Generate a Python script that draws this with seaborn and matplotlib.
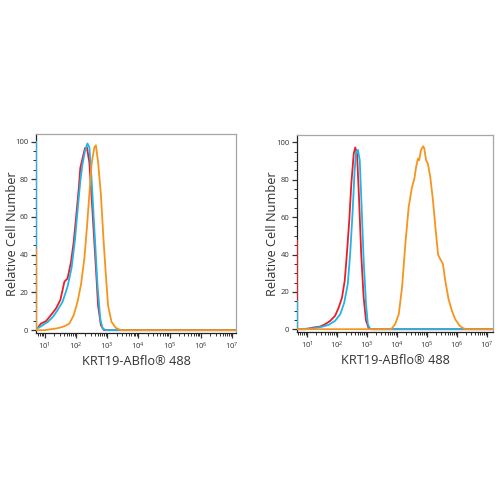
import numpy as np
import pandas as pd
import seaborn as sns
import matplotlib.pyplot as plt
from matplotlib.ticker import FixedLocator, LogFormatterSciNotation, MultipleLocator, NullFormatter

# positions are log10(fluorescence), values are % of max count
left_red_x = [0.80, 0.88, 1.04, 1.20, 1.36, 1.50, 1.63, 1.73, 1.84, 1.93, 2.00, 2.09,
              2.14, 2.21, 2.29, 2.35, 2.43, 2.53, 2.64, 2.71, 2.80, 2.90, 7.2]
left_red_y = [1.8, 3.5, 4.8, 8, 11.5, 16, 25.7, 27.4, 36, 47, 59, 75,
              86, 91, 96.5, 97, 89, 63, 33, 13, 2.6, 0, 0]
left_cyan_x = [0.725, 0.725, 0.80, 0.94, 1.10, 1.26, 1.41, 1.57, 1.73, 1.86, 1.97, 2.05, 2.14,
               2.21, 2.29, 2.37, 2.43, 2.50, 2.59, 2.69, 2.78, 2.85, 2.96, 7.2]
left_cyan_y = [100, 1.2, 1.2, 2.7, 4.4, 7, 10.6, 15, 23, 33, 48, 63, 79,
               88, 95, 99, 97, 80.5, 54, 24, 6, 1, 0, 0]
left_orange_x = [0.725, 0.725, 0.83, 1.00, 1.20, 1.40, 1.62, 1.79, 1.93, 2.05, 2.16, 2.27, 2.35,
                 2.43, 2.50, 2.59, 2.64, 2.71, 2.80, 2.88, 2.96, 3.03, 3.14, 3.28,
                 3.44, 7.2]
left_orange_y = [43, 0, 0, 0, 0.5, 1, 2, 3.5, 8, 15, 24, 38, 54,
                 72, 88, 97, 98, 89, 72, 49, 29, 13, 4.4, 1.2,
                 0, 0]

right_red_x = [0.675, 0.675, 0.72, 0.95, 1.22, 1.44, 1.61, 1.78, 1.94, 2.06, 2.17, 2.26, 2.33,
               2.41, 2.48, 2.56, 2.61, 2.67, 2.73, 2.81, 2.89, 2.97, 3.06, 3.17, 7.3]
right_red_y = [47.5, 0, 0, 0, 0.9, 1.4, 2.7, 4.5, 7.2, 11.6, 17, 26, 40,
               58, 78, 94, 97.3, 94, 72.6, 40, 17, 4.5, 0.4, 0, 0]
right_cyan_x = [0.675, 0.675, 0.72, 1.22, 1.50, 1.72, 1.94, 2.11, 2.24, 2.36, 2.44, 2.52,
                2.59, 2.64, 2.70, 2.76, 2.82, 2.89, 2.97, 3.03, 3.11, 7.3]
right_cyan_y = [15, 0, 0, 0.5, 1.3, 2.3, 4.5, 8, 14, 24, 40, 62,
                85, 95, 96, 90.5, 67, 37, 13.4, 2.7, 0, 0]
right_orange_x = [0.675, 3.75, 3.83, 3.94, 4.06, 4.17, 4.28, 4.39, 4.50, 4.58, 4.64, 4.70,
                  4.74, 4.80, 4.87, 4.91, 4.97, 5.03, 5.11, 5.20, 5.28, 5.37, 5.44,
                  5.53, 5.61, 5.72, 5.83, 5.94, 6.09, 6.22, 6.33, 7.3]
right_orange_y = [0, 0, 0.4, 2.7, 8, 22.4, 45.7, 65.4, 76, 80.6, 87, 91.4,
                  90.5, 95.9, 98, 96.8, 90.5, 88.7, 81.5, 69, 54.7, 40, 37.6,
                  35, 26, 16, 9.9, 5.4, 1.8, 0.4, 0, 0]

decades = [1, 2, 3, 4, 5, 6, 7]
y_ticks = [0, 20, 40, 60, 80, 100]

RED = "#ee1c25"
CYAN = "#1eb6e8"
ORANGE = "#f7941d"

sns.set_style("ticks")
plt.rcParams['font.family'] = ['Open Sans', 'DejaVu Sans']

fig = plt.figure(figsize=(5, 5), dpi=100)
ax1 = fig.add_axes([0.072, 0.334, 0.400, 0.398])
ax2 = fig.add_axes([0.594, 0.336, 0.392, 0.394])

panels = [
    (ax1, (0.72, 7.13), -0.085, [(left_red_x, left_red_y, RED),
                                 (left_cyan_x, left_cyan_y, CYAN),
                                 (left_orange_x, left_orange_y, ORANGE)]),
    (ax2, (0.67, 7.2), -0.09, [(right_red_x, right_red_y, RED),
                               (right_cyan_x, right_cyan_y, CYAN),
                               (right_orange_x, right_orange_y, ORANGE)]),
]

major = [10.0 ** d for d in decades]
minor = [m * 10.0 ** d for d in [0] + decades[:-1] for m in range(2, 10)]

for ax, lims, ylab_x, curves in panels:
    for xs, ys, col in curves:
        df = pd.DataFrame({"x": 10 ** np.array(xs), "y": ys})
        sns.lineplot(data=df, x="x", y="y", ax=ax, color=col, lw=1.3,
                     estimator=None, sort=False, zorder=3)
    ax.set_xscale("log")
    ax.set_xlim(10 ** lims[0], 10 ** lims[1])
    ax.set_ylim(-1.5, 104)
    ax.xaxis.set_major_locator(FixedLocator(major))
    ax.xaxis.set_major_formatter(LogFormatterSciNotation())
    ax.xaxis.set_minor_locator(FixedLocator([m for m in minor if m > 10 ** lims[0]]))
    ax.xaxis.set_minor_formatter(NullFormatter())
    ax.set_yticks(y_ticks)
    ax.yaxis.set_minor_locator(MultipleLocator(5))
    ax.tick_params(which="major", length=3.5, width=0.9, labelsize=5.5,
                   colors="#333333", pad=2)
    ax.tick_params(which="minor", length=2, width=0.7, colors="#333333")
    for s in ["top", "right"]:
        ax.spines[s].set_color("#a6a6a6")
        ax.spines[s].set_linewidth(0.9)
    for s in ["left", "bottom"]:
        ax.spines[s].set_color("#222222")
        ax.spines[s].set_linewidth(0.9)
    ax.set_xlabel("KRT19-ABflo® 488", fontsize=9.2, color="#333333", labelpad=2)
    ax.set_ylabel("Relative Cell Number", fontsize=9.2, color="#333333")
    ax.yaxis.set_label_coords(ylab_x, 0.5)

fig.savefig("out.png", dpi=100, facecolor="white")
